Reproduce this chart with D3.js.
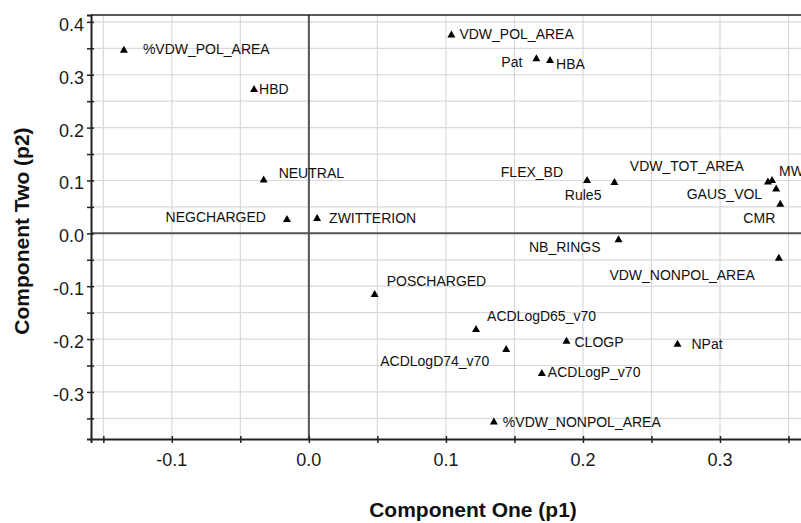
<!DOCTYPE html>
<html>
<head>
<meta charset="utf-8">
<script src="https://cdn.jsdelivr.net/npm/d3@7"></script>
<style>
  body { margin: 0; background: #fff; }
  svg { display: block; font-family: "Liberation Sans", Arial, Helvetica, sans-serif; }
</style>
</head>
<body>
<div id="chart"></div>
<script>
// Loadings
const variables = [
  "%VDW_POL_AREA", "HBD", "NEUTRAL", "NEGCHARGED", "ZWITTERION",
  "VDW_POL_AREA", "Pat", "HBA", "FLEX_BD", "Rule5",
  "VDW_TOT_AREA", "MW", "GAUS_VOL", "CMR", "NB_RINGS",
  "VDW_NONPOL_AREA", "POSCHARGED", "ACDLogD65_v70", "ACDLogD74_v70", "CLOGP",
  "NPat", "ACDLogP_v70", "%VDW_NONPOL_AREA"
];
const p1 = [
  -0.135, -0.040, -0.033, -0.016, 0.006,
  0.104, 0.166, 0.176, 0.203, 0.223,
  0.335, 0.338, 0.341, 0.344, 0.226,
  0.343, 0.048, 0.122, 0.144, 0.188,
  0.269, 0.170, 0.135
];
const p2 = [
  0.348, 0.274, 0.103, 0.028, 0.030,
  0.377, 0.332, 0.329, 0.102, 0.098,
  0.099, 0.102, 0.086, 0.057, -0.010,
  -0.045, -0.114, -0.180, -0.218, -0.202,
  -0.208, -0.263, -0.355
];

const xTicks = [-0.1, 0.0, 0.1, 0.2, 0.3];
const yTicks = [-0.3, -0.2, -0.1, 0.0, 0.1, 0.2, 0.3, 0.4];
const xMinor = [-0.15, -0.1, -0.05, 0, 0.05, 0.1, 0.15, 0.2, 0.25, 0.3, 0.35];
const yMinor = [-0.35, -0.3, -0.25, -0.2, -0.15, -0.1, -0.05, 0, 0.05, 0.1, 0.15, 0.2, 0.25, 0.3, 0.35, 0.4];

// where each label sits relative to its marker (pixels)
const labelPlacement = {
  "%VDW_POL_AREA": [19, 0, "start"],
  "HBD": [5, 0, "start"],
  "NEUTRAL": [15, -6, "start"],
  "NEGCHARGED": [-21, -2, "end"],
  "ZWITTERION": [12, 0, "start"],
  "VDW_POL_AREA": [8, 0, "start"],
  "Pat": [-14, 4, "end"],
  "HBA": [6, 5, "start"],
  "FLEX_BD": [-24, -7, "end"],
  "Rule5": [-13, 13, "end"],
  "VDW_TOT_AREA": [-24, -15, "end"],
  "MW": [7, -8, "start"],
  "GAUS_VOL": [-14, 6, "end"],
  "CMR": [-5, 15, "end"],
  "NB_RINGS": [-18, 8, "end"],
  "VDW_NONPOL_AREA": [-24, 18, "end"],
  "POSCHARGED": [12, -13, "start"],
  "ACDLogD65_v70": [11, -13, "start"],
  "ACDLogD74_v70": [-17, 12, "end"],
  "CLOGP": [8, 2, "start"],
  "NPat": [14, 1, "start"],
  "ACDLogP_v70": [6, 0, "start"],
  "%VDW_NONPOL_AREA": [9, 1, "start"]
};

const points = variables.map((name, i) => ({ name, x: p1[i], y: p2[i] }));

const width = 801, height = 523;
const plot = { left: 91, right: 857, top: 15, bottom: 439 };
const fmt = d => d.toFixed(1);   // plain hyphen for negatives, like the original

const svg = d3.select("#chart")
  .append("svg")
  .attr("width", width)
  .attr("height", height);

const xScale = d3.scaleLinear()
  .domain([-0.159, 0.4])
  .range([plot.left, plot.right]);

const yScale = d3.scaleLinear()
  .domain([-0.389, 0.413])
  .range([plot.bottom, plot.top]);

// grid
const grid = svg.append("g").attr("class", "grid");
grid.selectAll("line.gx")
  .data(xMinor)
  .enter()
  .append("line")
  .attr("x1", d => xScale(d)).attr("x2", d => xScale(d))
  .attr("y1", plot.top).attr("y2", plot.bottom)
  .attr("stroke", "#d9d9d9")
  .attr("stroke-width", 1.2);
grid.selectAll("line.gy")
  .data(yMinor)
  .enter()
  .append("line")
  .attr("x1", plot.left).attr("x2", plot.right)
  .attr("y1", d => yScale(d)).attr("y2", d => yScale(d))
  .attr("stroke", "#d9d9d9")
  .attr("stroke-width", 1.2);

// zero lines
svg.append("line")
  .attr("x1", xScale(0)).attr("x2", xScale(0))
  .attr("y1", plot.top).attr("y2", plot.bottom)
  .attr("stroke", "#555").attr("stroke-width", 2);
svg.append("line")
  .attr("x1", plot.left).attr("x2", plot.right)
  .attr("y1", yScale(0)).attr("y2", yScale(0))
  .attr("stroke", "#555").attr("stroke-width", 2);

// top border
svg.append("line")
  .attr("x1", plot.left).attr("x2", plot.right)
  .attr("y1", plot.top).attr("y2", plot.top)
  .attr("stroke", "#222").attr("stroke-width", 1.5);

// axes: minor ticks every 0.05, labels every 0.1
const xAxis = svg.append("g")
  .attr("transform", `translate(0, ${plot.bottom})`)
  .call(d3.axisBottom(xScale).tickValues(xMinor).tickSize(4).tickFormat(""));
xAxis.selectAll(".tick line").attr("y1", -3).attr("stroke", "#222").attr("stroke-width", 1.5);
xAxis.select(".domain").attr("stroke", "#222").attr("stroke-width", 2);

svg.append("g")
  .selectAll("text")
  .data(xTicks)
  .enter()
  .append("text")
  .attr("x", d => xScale(d))
  .attr("y", 466)
  .attr("text-anchor", "middle")
  .attr("font-size", "18px")
  .attr("fill", "#1a1a1a")
  .text(fmt);

const yAxis = svg.append("g")
  .attr("transform", `translate(${plot.left}, 0)`)
  .call(d3.axisLeft(yScale).tickValues(yMinor).tickSize(4).tickFormat(""));
yAxis.selectAll(".tick line").attr("x1", 3).attr("stroke", "#222").attr("stroke-width", 1.5);
yAxis.select(".domain").attr("stroke", "#222").attr("stroke-width", 2);

svg.append("g")
  .selectAll("text")
  .data(yTicks)
  .enter()
  .append("text")
  .attr("x", 84)
  .attr("y", d => yScale(d) + 9)
  .attr("text-anchor", "end")
  .attr("font-size", "18px")
  .attr("fill", "#1a1a1a")
  .text(fmt);

// markers
const tri = "M0,-3.5L4,3.5L-4,3.5Z";
const marks = svg.append("g")
  .selectAll("g")
  .data(points)
  .enter()
  .append("g")
  .attr("transform", d => `translate(${xScale(d.x)}, ${yScale(d.y)})`);

marks.append("path")
  .attr("d", tri)
  .attr("fill", "#000");

marks.append("text")
  .attr("x", d => labelPlacement[d.name][0])
  .attr("y", d => labelPlacement[d.name][1])
  .attr("dy", "0.36em")
  .attr("text-anchor", d => labelPlacement[d.name][2])
  .attr("font-size", "14px")
  .attr("fill", "#111")
  .text(d => d.name);

// axis titles
svg.append("text")
  .attr("x", 473)
  .attr("y", 517)
  .attr("text-anchor", "middle")
  .attr("font-size", "21px")
  .attr("font-weight", "bold")
  .attr("fill", "#111")
  .text("Component One (p1)");

svg.append("text")
  .attr("transform", "translate(29, 231) rotate(-90)")
  .attr("text-anchor", "middle")
  .attr("font-size", "21px")
  .attr("font-weight", "bold")
  .attr("fill", "#111")
  .text("Component Two (p2)");
</script>
</body>
</html>
